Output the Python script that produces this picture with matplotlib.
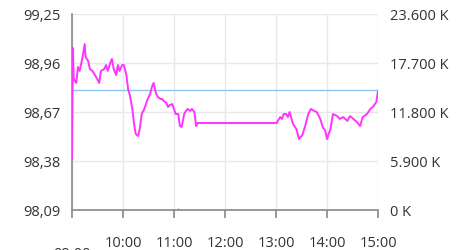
import matplotlib.pyplot as plt
import numpy as np

plt.rcParams['font.family'] = ['Open Sans', 'DejaVu Sans']

times = ['09:00', '09:01', '09:02', '09:05', '09:07', '09:09', '09:12', '09:15', '09:16', '09:19',
         '09:21', '09:24', '09:27', '09:31', '09:32', '09:34', '09:38', '09:40', '09:42', '09:45',
         '09:47', '09:49', '09:52', '09:54', '09:56', '09:59', '10:01', '10:04', '10:06', '10:08',
         '10:11', '10:13', '10:15', '10:18', '10:20', '10:22', '10:25', '10:27', '10:29', '10:32',
         '10:34', '10:36', '10:39', '10:41', '10:44', '10:46', '10:48', '10:51', '10:53', '10:55',
         '10:58', '11:00', '11:02', '11:05', '11:07', '11:09', '11:12', '11:14', '11:16', '11:19',
         '11:21', '11:24', '11:26', '11:28', '13:01', '13:02', '13:05', '13:07', '13:09', '13:12',
         '13:14', '13:16', '13:20', '13:24', '13:27', '13:31', '13:34', '13:38', '13:41', '13:45',
         '13:48', '13:52', '13:55', '13:58', '14:00', '14:04', '14:07', '14:12', '14:15', '14:19',
         '14:24', '14:27', '14:31', '14:35', '14:39', '14:42', '14:47', '14:51', '14:54', '14:58',
         '15:00']
prices = [98.392, 99.049, 98.865, 98.842, 98.936, 98.913, 98.984, 99.072, 98.995, 98.972,
          98.925, 98.913, 98.889, 98.853, 98.842, 98.913, 98.925, 98.948, 98.913, 98.960,
          98.984, 98.925, 98.889, 98.948, 98.913, 98.948, 98.948, 98.889, 98.806, 98.771,
          98.688, 98.599, 98.540, 98.528, 98.581, 98.658, 98.688, 98.717, 98.747, 98.777,
          98.818, 98.842, 98.777, 98.759, 98.747, 98.747, 98.735, 98.723, 98.700, 98.711,
          98.717, 98.688, 98.658, 98.658, 98.587, 98.581, 98.658, 98.676, 98.688, 98.676,
          98.688, 98.670, 98.587, 98.605, 98.605, 98.617, 98.640, 98.629, 98.658, 98.658,
          98.640, 98.670, 98.599, 98.569, 98.510, 98.534, 98.581, 98.658, 98.688, 98.676,
          98.670, 98.629, 98.581, 98.558, 98.510, 98.569, 98.658, 98.646, 98.629, 98.640,
          98.617, 98.646, 98.629, 98.611, 98.587, 98.640, 98.658, 98.688, 98.700, 98.729,
          98.794]
prev_close = 98.80

vol_times = ['11:05', '13:00']
volumes = [250, 700]  # K

price_ticks = [98.09, 98.38, 98.67, 98.96, 99.25]
vol_ticks = [0, 5900, 11800, 17700, 23600]
hour_labels = ['09:00', '10:00', '11:00', '12:00', '13:00', '14:00', '15:00']


def to_min(s):
    h, m = s.split(':')
    return (int(h) - 9) * 60 + int(m)


x = np.array([to_min(t) for t in times])
vx = np.array([to_min(t) for t in vol_times])
hx = [to_min(t) for t in hour_labels]

fig = plt.figure(figsize=(4.7, 2.51), dpi=100)
ax = fig.add_axes([72 / 470, 40 / 251, 306 / 470, 196 / 251])
ax2 = ax.twinx()

ax.set_zorder(2)
ax.patch.set_visible(False)

ax2.bar(vx, volumes, width=0.8, color='#b8b0f0', zorder=1)
ax2.set_ylim(0, 23600)
ax2.set_yticks(vol_ticks)
ax2.set_yticklabels(['{:,} K'.format(v).replace(',', '.') for v in vol_ticks])

ax.axhline(prev_close, color='#8ec5f5', lw=1, zorder=2)
ax.plot(x, prices, color='#ff33ff', lw=1.4, zorder=3)

ax.set_xlim(0, 360)
ax.set_ylim(98.09, 99.25)
ax.set_yticks(price_ticks)
ax.set_yticklabels(['{:.2f}'.format(v).replace('.', ',') for v in price_ticks])
ax.set_xticks(hx)
ax.set_xticklabels(hour_labels)
ax.grid(True, color='#e8e8e8', lw=1)
ax.set_axisbelow(True)

for a in (ax, ax2):
    for s in ('top', 'right', 'left', 'bottom'):
        a.spines[s].set_visible(False)

ax.spines['left'].set_visible(True)
ax.spines['bottom'].set_visible(True)
ax.spines['left'].set_color('#888888')
ax.spines['bottom'].set_color('#888888')
ax.spines['left'].set_linewidth(1.2)
ax.spines['bottom'].set_linewidth(1.2)

ax.tick_params(axis='y', length=0, pad=8, labelsize=10.5, labelcolor='#333333')
ax.tick_params(axis='x', length=6, width=1.2, color='#888888', pad=12,
               labelsize=10.5, labelcolor='#333333')
ax2.tick_params(axis='y', length=0, pad=9, labelsize=10.5, labelcolor='#333333')

# first time label sits lower, mostly clipped by the bottom edge
ax.get_xticklabels()[0].set_y(-0.055)

fig.savefig('out.png', dpi=100)
